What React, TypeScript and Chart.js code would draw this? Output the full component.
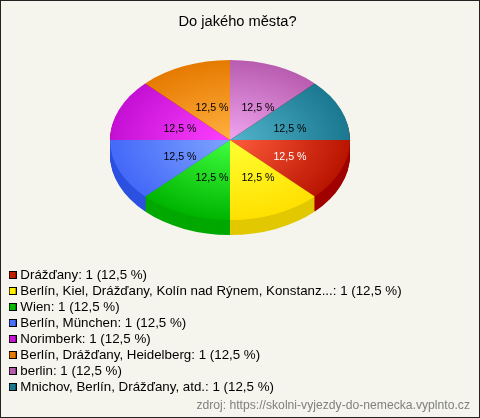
import React, { useEffect, useRef } from "react";
import { Chart, registerables } from "chart.js";

Chart.register(...registerables);

const chartTitle = "Do jakého města?";
const sourceNote = "zdroj: https://skolni-vyjezdy-do-nemecka.vyplnto.cz";
const categories = [
  "Drážďany",
  "Berlín, Kiel, Drážďany, Kolín nad Rýnem, Konstanz...",
  "Wien",
  "Berlín, München",
  "Norimberk",
  "Berlín, Drážďany, Heidelberg",
  "berlin",
  "Mnichov, Berlín, Drážďany, atd.",
];
const values = [1, 1, 1, 1, 1, 1, 1, 1];
const innerColors = ["#ff5c3c", "#ffff33", "#40ff40", "#7ea4ff", "#ff40ff", "#ffb040", "#f0a4f0", "#52b4cc"];
const outerColors = ["#b81400", "#ffe000", "#00b400", "#4468f8", "#c410d4", "#e67a00", "#b85cb0", "#1a7890"];
const sideColors = ["#a00000", "#e2c800", "#00a800", "#2c50e0", "#a00000", "#a00000", "#a00000", "#a00000"];
const legendColors = ["#c41e00", "#ffee00", "#00bb00", "#4a70ff", "#c814d8", "#e87c00", "#b85cb0", "#1a7890"];
const labelColors = ["#ffffff", "#000000", "#000000", "#000000", "#000000", "#000000", "#000000", "#000000"];

const BG = "#f5f5ed";
const PIE_LEFT = 110;
const PIE_TOP = 20;
const PIE_SIZE = 240;
const TILT = 2 / 3;
const LABEL_TILT = 0.63;
const DEPTH = 15;
const FONT = "'Liberation Sans', Arial, sans-serif";

const percentText = (v: number) => {
  const total = values.reduce((a, b) => a + b, 0);
  return `${((v / total) * 100).toFixed(1).replace(".", ",")} %`;
};

const swatch = (color: string) => {
  const c = document.createElement("canvas");
  c.width = 8;
  c.height = 8;
  const x = c.getContext("2d")!;
  x.fillStyle = "#000";
  x.fillRect(0, 0, 8, 8);
  x.fillStyle = color;
  x.fillRect(1, 1, 6, 6);
  return c;
};

const piePlugin = {
  id: "tiltedPie",
  afterLayout(chart: any) {
    chart.chartArea = {
      left: PIE_LEFT,
      right: PIE_LEFT + PIE_SIZE,
      top: PIE_TOP,
      bottom: PIE_TOP + PIE_SIZE,
      width: PIE_SIZE,
      height: PIE_SIZE,
    };
    const lg = chart.legend;
    const w = lg.width;
    const h = lg.height;
    const dx = 9 - lg.left;
    const dy = 265.665 - lg.top;
    lg.left += dx;
    lg.right = lg.left + w;
    lg.top += dy;
    lg.bottom = lg.top + h;
    lg.legendHitBoxes.forEach((b: any) => {
      b.left += dx;
      b.top += dy;
    });
    const tb = chart.titleBlock;
    tb.left -= 2.5;
    tb.right -= 2.5;
  },
  beforeDatasetsDraw(chart: any) {
    const { ctx, chartArea: a } = chart;
    const cy = (a.top + a.bottom) / 2;
    ctx.save();
    ctx.translate(0, cy);
    ctx.scale(1, TILT);
    ctx.translate(0, -cy);
    const arcs = chart.getDatasetMeta(0).data;
    for (let d = DEPTH; d >= 1; d--) {
      ctx.save();
      ctx.translate(0, d / TILT);
      arcs.forEach((arc: any, i: number) => {
        const o = arc.options;
        arc.options = { ...o, backgroundColor: sideColors[i], borderWidth: 0 };
        arc.draw(ctx);
        arc.options = o;
      });
      ctx.restore();
    }
  },
  afterDatasetsDraw(chart: any) {
    const { ctx, chartArea: a } = chart;
    ctx.restore();
    const cy = (a.top + a.bottom) / 2;
    const arcs = chart.getDatasetMeta(0).data;
    ctx.save();
    ctx.font = `10.67px ${FONT}`;
    ctx.textAlign = "center";
    ctx.textBaseline = "middle";
    arcs.forEach((arc: any, i: number) => {
      const p = arc.getCenterPoint();
      ctx.fillStyle = labelColors[i];
      ctx.fillText(percentText(values[i]), Math.round(p.x + 5), Math.round(cy + (p.y - cy) * LABEL_TILT + 3));
    });
    ctx.restore();
  },
  beforeDraw(chart: any) {
    const { ctx, width, height } = chart;
    ctx.save();
    ctx.fillStyle = BG;
    ctx.fillRect(0, 0, width, height);
    ctx.strokeStyle = "#222222";
    ctx.lineWidth = 1;
    ctx.strokeRect(0.5, 0.5, width - 1, height - 1);
    ctx.restore();
  },
};

export default function App() {
  const ref = useRef<HTMLCanvasElement>(null);
  useEffect(() => {
    document.body.style.margin = "0";
    const chart = new Chart(ref.current!, {
      type: "pie",
      data: {
        labels: categories,
        datasets: [
          {
            data: values,
            clip: false,
            borderWidth: 0,
            backgroundColor: (c: any) => {
              const area = c.chart.chartArea;
              if (!area || c.dataIndex === undefined) return BG;
              const cx = (area.left + area.right) / 2;
              const cy = (area.top + area.bottom) / 2;
              const g = c.chart.ctx.createRadialGradient(cx, cy, 0, cx, cy, PIE_SIZE / 2);
              g.addColorStop(0, innerColors[c.dataIndex]);
              g.addColorStop(1, outerColors[c.dataIndex]);
              return g;
            },
          } as any,
        ],
      },
      options: {
        responsive: false,
        animation: false,
        devicePixelRatio: 1,
        rotation: 90,
        layout: { padding: { left: 10, right: 10 } },
        plugins: {
          tooltip: { enabled: false },
          title: {
            display: true,
            text: chartTitle,
            color: "#000000",
            font: { family: FONT, size: 14.67, weight: "normal" },
            padding: { top: 13, bottom: 4 },
          },
          subtitle: {
            display: true,
            text: sourceNote,
            position: "bottom",
            align: "end",
            color: "#808080",
            font: { family: FONT, size: 12.17, weight: "normal" },
            padding: { top: 0, bottom: 5 },
          },
          legend: {
            display: true,
            position: "left",
            align: "start",
            maxWidth: 470,
            labels: {
              color: "#000000",
              font: { family: FONT, size: 13.33 },
              usePointStyle: true,
              pointStyleWidth: 2,
              boxHeight: 8,
              padding: 2.67,
              generateLabels: () =>
                categories.map((cat, i) => ({
                  text: `${cat}: ${values[i]} (${percentText(values[i])})`,
                  fontColor: "#000000",
                  pointStyle: swatch(legendColors[i]),
                  hidden: false,
                  index: i,
                  lineWidth: 0,
                })),
            },
          },
        },
      } as any,
      plugins: [piePlugin],
    });
    return () => chart.destroy();
  }, []);
  return <canvas ref={ref} width={480} height={418} style={{ display: "block" }} />;
}
